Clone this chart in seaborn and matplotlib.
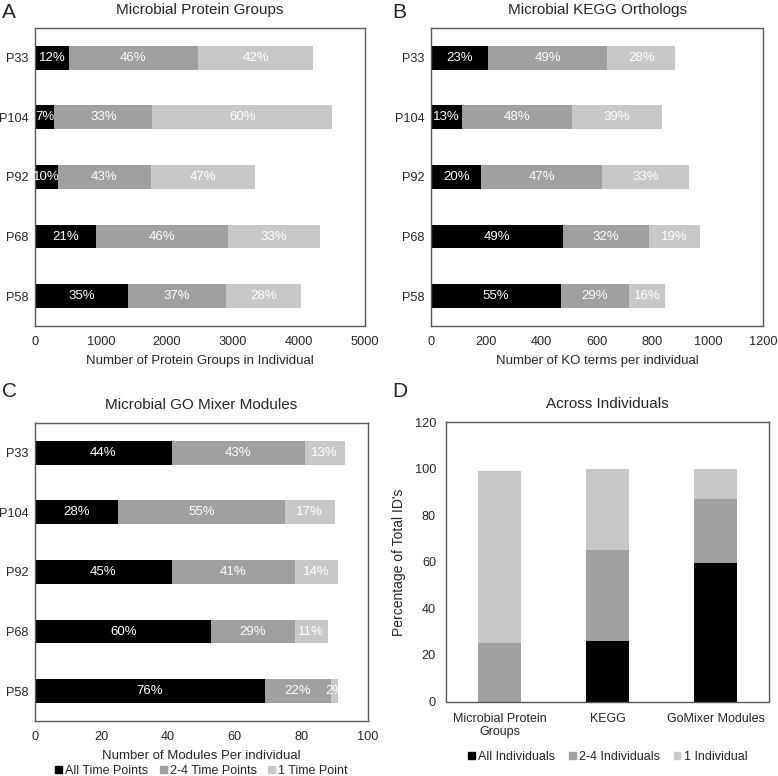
import numpy as np
import pandas as pd
import matplotlib
matplotlib.use("Agg")
import matplotlib.pyplot as plt
from matplotlib.patches import Patch
import seaborn as sns

# individuals, top to bottom
people = ["P33", "P104", "P92", "P68", "P58"]

# A: protein groups per individual (all / 2-4 / 1 time point)
prot_all = [515, 293, 343, 924, 1409]
prot_mid = [1955, 1485, 1415, 1995, 1485]
prot_one = [1747, 2727, 1570, 1404, 1136]
prot_pct = [["12%", "46%", "42%"], ["7%", "33%", "60%"], ["10%", "43%", "47%"],
            ["21%", "46%", "33%"], ["35%", "37%", "28%"]]

# B: KEGG orthologs
kegg_all = [207, 111, 182, 476, 469]
kegg_mid = [429, 398, 437, 310, 245]
kegg_one = [246, 327, 313, 184, 133]
kegg_pct = [["23%", "49%", "28%"], ["13%", "48%", "39%"], ["20%", "47%", "33%"],
            ["49%", "32%", "19%"], ["55%", "29%", "16%"]]

# C: GO mixer modules
go_all = [41, 25, 41, 53, 69]
go_mid = [40, 50, 37, 25, 20]
go_one = [12, 15, 13, 10, 2]
go_pct = [["44%", "43%", "13%"], ["28%", "55%", "17%"], ["45%", "41%", "14%"],
          ["60%", "29%", "11%"], ["76%", "22%", "2%"]]

# D: across individuals (percent of total IDs)
groups = ["Microbial Protein\nGroups", "KEGG", "GoMixer Modules"]
across_all = [0, 26, 59.5]
across_mid = [25, 39, 27.5]
across_one = [74, 35, 13]

colors = ["#000000", "#a0a0a0", "#c8c8c8"]

sns.set_style("white")
plt.rcParams['font.family'] = ['Liberation Sans', 'DejaVu Sans']
plt.rcParams['axes.edgecolor'] = '#595959'
plt.rcParams['axes.linewidth'] = 1.0


def stacked_h(ax, a, m, o, pct, xmax, xstep, title, xlabel):
    df = pd.DataFrame({"who": people, "a": a, "m": m, "o": o})
    df["c1"] = df["a"]
    df["c2"] = df["a"] + df["m"]
    df["c3"] = df["c2"] + df["o"]
    for col, c in zip(["c3", "c2", "c1"], colors[::-1]):
        sns.barplot(data=df, x=col, y="who", color=c, width=0.4, ax=ax,
                    saturation=1, orient="h", linewidth=0)
    for i, row in df.iterrows():
        lefts = [0, row["c1"], row["c2"]]
        widths = [row["a"], row["m"], row["o"]]
        for j in range(3):
            ax.text(lefts[j] + widths[j] / 2, i, pct[i][j], color="white",
                    ha="center", va="center", fontsize=9.5)
    ax.set_xlim(0, xmax)
    ax.set_xticks(np.arange(0, xmax + xstep, xstep))
    ax.set_ylim(4.5, -0.5)
    ax.set_ylabel("")
    ax.set_xlabel(xlabel, fontsize=9.5, labelpad=5)
    ax.set_title(title, fontsize=11, pad=10)
    ax.tick_params(labelsize=9.2, length=0)
    ax.tick_params(axis="x", pad=7.5)
    ax.tick_params(axis="y", pad=4.5)


fig = plt.figure(figsize=(7.78, 7.76), dpi=100)
axA = fig.add_axes([0.045, 0.580, 0.424, 0.384])
axB = fig.add_axes([0.554, 0.580, 0.427, 0.384])
axC = fig.add_axes([0.045, 0.071, 0.428, 0.384])
axD = fig.add_axes([0.573, 0.096, 0.416, 0.360])

stacked_h(axA, prot_all, prot_mid, prot_one, prot_pct, 5000, 1000,
          "Microbial Protein Groups", "Number of Protein Groups in Individual")
stacked_h(axB, kegg_all, kegg_mid, kegg_one, kegg_pct, 1200, 200,
          "Microbial KEGG Orthologs", "Number of KO terms per individual")
stacked_h(axC, go_all, go_mid, go_one, go_pct, 100, 20,
          "Microbial GO Mixer Modules", "Number of Modules Per individual")

handles = [Patch(color=c) for c in colors]
axC.legend(handles, ["All Time Points", "2-4 Time Points", "1 Time Point"],
           loc="upper center", bbox_to_anchor=(0.5, -0.147), ncol=3, frameon=False,
           fontsize=9, handlelength=0.55, handleheight=0.55, handletextpad=0.25,
           columnspacing=0.9, borderaxespad=0, borderpad=0)

# D: vertical stacked bars
dfD = pd.DataFrame({"g": groups, "a": across_all, "m": across_mid, "o": across_one})
dfD["c1"] = dfD["a"]
dfD["c2"] = dfD["a"] + dfD["m"]
dfD["c3"] = dfD["c2"] + dfD["o"]
for col, c in zip(["c3", "c2", "c1"], colors[::-1]):
    sns.barplot(data=dfD, x="g", y=col, color=c, width=0.4, ax=axD,
                saturation=1, linewidth=0)
axD.set_ylim(0, 120)
axD.set_yticks(range(0, 121, 20))
axD.set_xlim(-0.5, 2.5)
axD.set_xlabel("")
axD.set_ylabel("Percentage of Total ID's", fontsize=10, labelpad=6)
axD.set_title("Across Individuals", fontsize=11, pad=10)
axD.tick_params(labelsize=9.2, length=0)
axD.tick_params(axis="x", pad=8)
axD.tick_params(axis="y", pad=7)
for t in axD.get_xticklabels():
    t.set_fontsize(9)
axD.legend(handles, ["All Individuals", "2-4 Individuals", "1 Individual"],
           loc="upper center", bbox_to_anchor=(0.5, -0.177), ncol=3, frameon=False,
           fontsize=9, handlelength=0.55, handleheight=0.55, handletextpad=0.25,
           columnspacing=1.1, borderaxespad=0, borderpad=0)

for lab, x, y in [("A", 0.002, 0.984), ("B", 0.504, 0.984),
                  ("C", 0.002, 0.495), ("D", 0.504, 0.495)]:
    fig.text(x, y, lab, fontsize=15, va="center", ha="left")

fig.savefig("out.png", dpi=100)
